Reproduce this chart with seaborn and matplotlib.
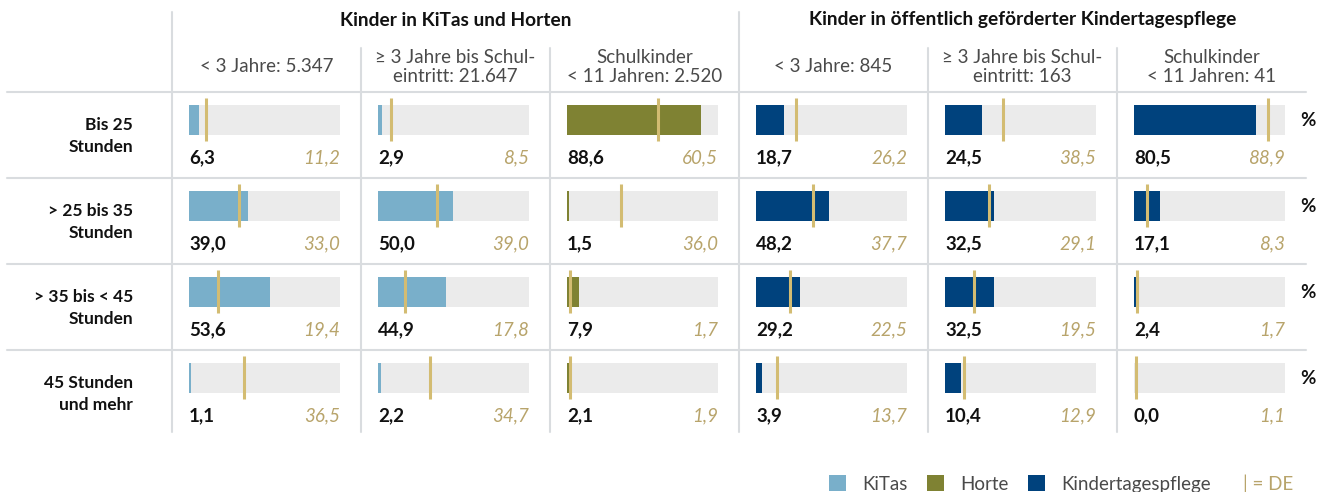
import matplotlib
matplotlib.use("Agg")
import matplotlib.pyplot as plt
import seaborn as sns
from matplotlib.lines import Line2D
from matplotlib.patches import Patch

# chart data
row_labels = ["Bis 25\nStunden", "> 25 bis 35\nStunden", "> 35 bis < 45\nStunden", "45 Stunden\nund mehr"]
group_titles = ["Kinder in KiTas und Horten", "Kinder in öffentlich geförderter Kindertagespflege"]
col_titles = [
    "< 3 Jahre: 5.347",
    "≥ 3 Jahre bis Schul-\neintritt: 21.647",
    "Schulkinder\n< 11 Jahren: 2.520",
    "< 3 Jahre: 845",
    "≥ 3 Jahre bis Schul-\neintritt: 163",
    "Schulkinder\n< 11 Jahren: 41",
]
col_types = ["KiTas", "KiTas", "Horte", "Kindertagespflege", "Kindertagespflege", "Kindertagespflege"]

kita_u3 = [6.3, 39.0, 53.6, 1.1]
kita_u3_de = [11.2, 33.0, 19.4, 36.5]
kita_ue3 = [2.9, 50.0, 44.9, 2.2]
kita_ue3_de = [8.5, 39.0, 17.8, 34.7]
hort_schul = [88.6, 1.5, 7.9, 2.1]
hort_schul_de = [60.5, 36.0, 1.7, 1.9]
ktp_u3 = [18.7, 48.2, 29.2, 3.9]
ktp_u3_de = [26.2, 37.7, 22.5, 13.7]
ktp_ue3 = [24.5, 32.5, 32.5, 10.4]
ktp_ue3_de = [38.5, 29.1, 19.5, 12.9]
ktp_schul = [80.5, 17.1, 2.4, 0.0]
ktp_schul_de = [88.9, 8.3, 1.7, 1.1]

values = [kita_u3, kita_ue3, hort_schul, ktp_u3, ktp_ue3, ktp_schul]
values_de = [kita_u3_de, kita_ue3_de, hort_schul_de, ktp_u3_de, ktp_ue3_de, ktp_schul_de]

colors = {"KiTas": "#79afca", "Horte": "#7f8233", "Kindertagespflege": "#00427d"}
bg_gray = "#ebebeb"
gold_line = "#d3bc72"
gold_text = "#b8a46b"
grid_col = "#d9dcdf"
sub_col = "#4a4a4a"

sns.set_theme(style="white")
plt.rcParams["font.family"] = ["Lato", "DejaVu Sans"]

W, H = 1317, 492
fig = plt.figure(figsize=(W / 100, H / 100), dpi=100)


def fx(px):
    return px / W


def fy(py):
    return 1 - py / H


col_left = 172
col_w = 189
top, bottom = 92, 436
row_h = 86
bar_off = 28  # bar centre below row top

fs = 13.5
for i in range(6):
    ax = fig.add_axes([fx(col_left + i * col_w), fy(bottom), fx(col_w), (bottom - top) / H])
    sns.barplot(x=[100] * len(row_labels), y=row_labels, orient="h", color=bg_gray,
                saturation=1, width=0.35, errorbar=None, linewidth=0, ax=ax)
    sns.barplot(x=values[i], y=row_labels, orient="h", color=colors[col_types[i]],
                saturation=1, width=0.35, errorbar=None, linewidth=0, ax=ax)
    for r, (v, d) in enumerate(zip(values[i], values_de[i])):
        ax.vlines(d, r - 0.255, r + 0.245, color=gold_line, lw=2.2, zorder=5)
        ax.text(0, r + 0.44, f"{v:.1f}".replace(".", ","), ha="left", va="center",
                fontsize=fs, fontweight="bold", color="#111111")
        ax.text(100, r + 0.44, f"{d:.1f}".replace(".", ","), ha="right", va="center",
                fontsize=fs, fontstyle="italic", color=gold_text)
    ax.set_xlim(-17 / 1.51, (col_w - 17) / 1.51)
    ax.set_ylim(bottom / row_h - top / row_h - bar_off / row_h, -bar_off / row_h)
    ax.set_axis_off()
    # column subtitle
    fig.text(fx(col_left + i * col_w + col_w / 2), fy(67), col_titles[i], ha="center",
             va="center", fontsize=fs, fontweight="normal", color=sub_col, linespacing=1.15)
    # percent sign at the right
    if i == 5:
        for r in range(len(row_labels)):
            ax.text(100 + 23 / 1.51, r, "%", ha="center", va="center",
                    fontsize=fs, fontweight="bold", color="#111111")

# row labels
for r, lab in enumerate(row_labels):
    fig.text(fx(133), fy(top + r * row_h + row_h / 2 + 1), lab, ha="right", va="center",
             fontsize=12.5, fontweight="bold", color="#111111", linespacing=1.45)

# group titles
for g, title in enumerate(group_titles):
    cx = col_left + (g * 3 + 1.5) * col_w
    fig.text(fx(cx), fy(20), title, ha="center", va="center", fontsize=13.8,
             fontweight="bold", color="#111111")

# grid lines
for r in range(4):
    y = top + r * row_h
    fig.add_artist(Line2D([fx(7), fx(1306)], [fy(y), fy(y)], color=grid_col, lw=1.5))
for i in range(6):
    x = col_left + i * col_w
    y0 = 12 if i in (0, 3) else 48
    fig.add_artist(Line2D([fx(x), fx(x)], [fy(y0), fy(432)], color=grid_col, lw=1.5))

# legend
handles = [Patch(facecolor=colors[k], edgecolor="none") for k in ["KiTas", "Horte", "Kindertagespflege"]]
leg = fig.legend(handles, ["KiTas", "Horte", "Kindertagespflege"], loc="center left",
                 bbox_to_anchor=(fx(829), fy(484)), ncol=3, frameon=False,
                 handlelength=0.9, handleheight=0.9, handletextpad=0.9,
                 columnspacing=1.0, borderpad=0, borderaxespad=0,
                 prop={"size": 13.5, "weight": "normal"})
for t in leg.get_texts():
    t.set_color(sub_col)
fig.text(fx(1243), fy(484), "| = DE", ha="left", va="center", fontsize=13.5,
         fontweight="normal", color=gold_text)

fig.savefig("out.png", dpi=100)
